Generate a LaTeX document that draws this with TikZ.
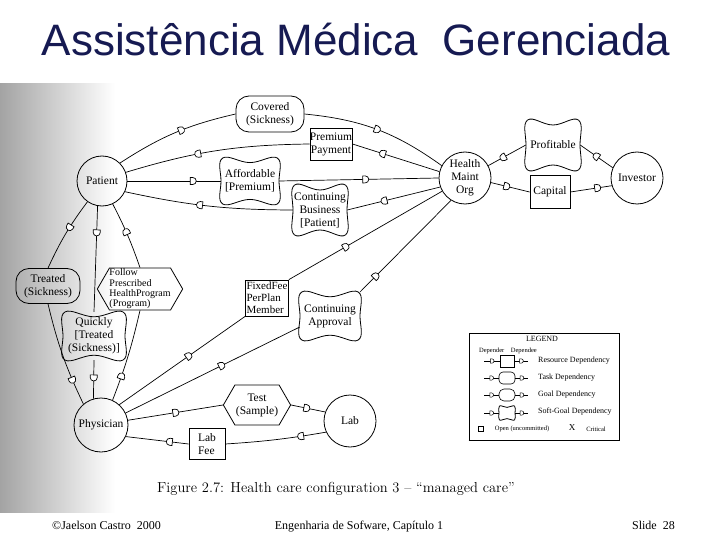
\documentclass[tikz,border=0pt]{standalone}
\usepackage{fontspec}
\newfontfamily\tnr{Liberation Serif}
\newfontfamily\titlefont{Liberation Sans}
\usetikzlibrary{shapes.symbols,shapes.misc,decorations.markings}
\definecolor{titleblue}{RGB}{22,26,82}
\newcommand\dsym{\draw[line width=0.7pt,fill=white] (-2.6pt,-3.5pt) -- (0pt,-3.5pt) arc[start angle=-90,end angle=90,radius=3.5pt] -- (-2.6pt,3.5pt) -- cycle;}
\newcommand\dsymsmall{\draw[line width=0.5pt,fill=white] (-1.6pt,-2.2pt) -- (0pt,-2.2pt) arc[start angle=-90,end angle=90,radius=2.2pt] -- (-1.6pt,2.2pt) -- cycle;}
\tikzset{
  x=1pt,y=-1pt,
  every node/.style={font=\tnr\fontsize{11.5}{13}\selectfont, align=center, inner sep=1pt},
  actor/.style={draw, circle, line width=0.8pt, minimum size=#1, inner sep=0pt},
  goal/.style={draw, rounded corners=13pt, line width=0.8pt, inner sep=0pt},
  res/.style={draw, rectangle, line width=0.8pt, inner sep=0pt},
  task/.style={draw, signal, signal to=west and east, signal pointer angle=120, line width=0.8pt},
  sgtext/.style={inner sep=0pt},
  sgline/.style={line width=0.8pt},
  link/.style={line width=0.7pt},
  dmk/.style={postaction={decorate,decoration={markings,mark=at position #1 with {\dsym}}}},
  dmks/.style={postaction={decorate,decoration={markings,mark=at position #1 with {\dsymsmall}}}},
  legtext/.style={font=\tnr\fontsize{8}{9}\selectfont, inner sep=0pt},
  foot/.style={font=\tnr\fontsize{12}{14}\selectfont, inner sep=0pt},
}
\newcommand\softgoal[6]{%
  \node[sgtext, minimum width=#4, minimum height=#5] (#1) at (#2,#3) {#6};
  \draw[sgline, shift={(#2,#3)}] plot[smooth cycle, tension=0.7] coordinates {(-0.47*#4,-0.5*#5) (0,-0.4*#5) (0.47*#4,-0.5*#5) (0.5*#4,0) (0.47*#4,0.5*#5) (0,0.4*#5) (-0.47*#4,0.5*#5) (-0.5*#4,0)};
}
\begin{document}
\begin{tikzpicture}
\useasboundingbox (0,0) rectangle (720,540);
\fill[white] (0,0) rectangle (720,540);
% scanned page shading
\shade[left color=black!36, right color=white] (0,84) rectangle (115,512);

% title
\node[font=\titlefont\fontsize{44}{48}\selectfont, text=titleblue] (title) at (356,40) {Assistência Médica\ \ Gerenciada};

% actors
\node[actor=50] (pat) at (102,181) {Patient};
\node[actor=52] (hmo) at (465,178) {Health\\Maint\\Org};
\node[actor=52] (inv) at (637,178) {Investor};
\node[actor=54] (phy) at (101,425) {Physician};
\node[actor=52] (lab) at (350,421) {Lab};

% goals
\node[goal, minimum width=68, minimum height=36] (cov) at (270,114) {Covered\\(Sickness)};
\node[goal, minimum width=64, minimum height=35] (trt) at (48,286) {Treated\\(Sickness)};

% resources
\node[res, minimum width=41, minimum height=32] (pp) at (331,144) {Premium\\Payment};
\node[res, minimum width=40, minimum height=33] (cap) at (550,192) {Capital};
\node[res, minimum width=43, minimum height=36, font=\tnr\fontsize{11}{11.8}\selectfont, align=left] (ff) at (267,298) {FixedFee\\PerPlan\\Member};
\node[res, minimum width=36, minimum height=31, align=left] (lf) at (207,444) {Lab\\Fee};

% tasks
\node[task, minimum width=62, minimum height=40] (tst) at (257,405) {Test\\(Sample)};
\node[task, minimum width=64, minimum height=42, inner sep=0pt, font=\tnr\fontsize{10}{10.4}\selectfont, align=left] (fol) at (140,289) {Follow\\Prescribed\\HealthProgram\\(Program)};

% softgoals
\softgoal{aff}{250}{181}{58}{46}{Affordable\\{[}Premium]}
\softgoal{cb}{320}{210}{54}{50}{Continuing\\Business\\{[}Patient]}
\softgoal{prof}{553}{145}{54}{50}{Profitable}
\softgoal{qk}{94}{336}{62}{48}{Quickly\\{[}Treated\\(Sickness)]}
\softgoal{ca}{330}{316}{60}{48}{Continuing\\Approval}

% dependencies
\draw[link,dmk=0.55] (pat.45) to[bend left=10] (cov.west);
\draw[link,dmk=0.5] (cov.east) to[bend left=15] (hmo.152);
\draw[link,dmk=0.65] (hmo.166) -- (pp.east);
\draw[link,dmk=0.6] (pp.west) to[bend right=8] (pat.20);
\draw[link,dmk=0.7] (pat.east) -- (aff.west);
\draw[link,dmk=0.54] (aff.east) -- (hmo.west);
\draw[link,dmk=0.6] (hmo.200) -- (cb.east);
\draw[link,dmk=0.55] (cb.west) to[bend left=6] (pat.-25);
\draw[link,dmk=0.5] (inv.157) -- (prof.east);
\draw[link,dmk=0.6] (prof.west) -- (hmo.28);
\draw[link,dmk=0.4] (hmo.-10) -- (cap.west);
\draw[link,dmk=0.65] (cap.east) -- (inv.197);
\draw[link,dmk=0.55] (phy.48) -- (ff.south west);
\draw[link,dmk=0.37] (ff.north east) -- (hmo.210);
\draw[link,dmk=0.55] (phy.26) -- (ca.200);
\draw[link,dmk=0.17] (ca.north east) -- (hmo.238);
\draw[link,dmk=0.5] (phy.10) -- (tst.west);
\draw[link,dmk=0.45] (tst.east) -- (lab.160);
\draw[link,dmk=0.25] (lab.205) to[bend left=3] (lf.east);
\draw[link,dmk=0.3] (lf.west) -- (phy.-25);
\draw[link,dmk=0.4] (pat.-125) to[bend right=6] (trt.north);
\draw[link,dmk=0.75] (trt.south) to[bend right=6] (phy.130);
\draw[link,dmk=0.25] (pat.-100) -- (qk.north);
\draw[link,dmk=0.45] (qk.south) -- (phy.106);
\draw[link,dmk=0.27] (phy.65) to[bend right=4] (fol.south);
\draw[link,dmk=0.55] (fol.north) to[bend right=4] (pat.-65);

% legend
\node[draw, line width=0.8pt, minimum width=150, minimum height=107, inner sep=0pt] (leg) at (544,386.5) {};
\draw[line width=1.6pt] (leg.south west) -- (leg.south east);
\node[legtext] (legh) at (542,339) {LEGEND};
\node[legtext, font=\tnr\fontsize{6.5}{7}\selectfont] (legd) at (508,351) {Depender\quad Dependee};
\node[draw, line width=0.6pt, minimum width=14, minimum height=12, inner sep=0pt] (lr) at (507,361) {};
\node[draw, line width=0.6pt, rounded corners=4pt, minimum width=16, minimum height=12, inner sep=0pt] (lt) at (507,378) {};
\node[draw, line width=0.6pt, rounded corners=5pt, minimum width=16, minimum height=12, inner sep=0pt] (lg) at (507,395) {};
\softgoal{ls}{507}{413}{16}{14}{}
\foreach \n/\yy in {r/361,t/378,g/395,s/413}{
  \coordinate (la\n) at (484,\yy);
  \coordinate (lb\n) at (528,\yy);
  \draw[line width=0.5pt,dmks=0.5] (la\n) -- (l\n.west);
  \draw[line width=0.5pt,dmks=0.5] (l\n.east) -- (lb\n);
}
\node[legtext, anchor=west] (ltr) at (538,361) {Resource Dependency};
\node[legtext, anchor=west] (ltt) at (538,378) {Task Dependency};
\node[legtext, anchor=west] (ltg) at (538,395) {Goal Dependency};
\node[legtext, anchor=west] (lts) at (538,412) {Soft-Goal Dependency};
\node[draw, line width=0.5pt, minimum size=5, inner sep=0pt] (lsq) at (481,429) {};
\node[legtext, font=\tnr\fontsize{6.5}{7}\selectfont] (lopen) at (522,429) {Open (uncommitted)};
\node[legtext, font=\tnr\fontsize{9}{10}\selectfont] (lx) at (572,428) {X};
\node[legtext, font=\tnr\fontsize{6.5}{7}\selectfont] (lcrit) at (596,429) {Critical};

% caption
\node[font=\rmfamily\fontsize{14.5}{16}\selectfont] (fcap) at (336,489) {Figure 2.7: Health care configuration 3 -- ``managed care''};

% footer
\node[foot, anchor=base west] (f1) at (52,529) {©Jaelson Castro\ \ 2000};
\node[foot, anchor=base] (f2) at (359,529) {Engenharia de Sofware, Capítulo 1};
\node[foot, anchor=base east] (f3) at (675,529) {Slide\ \ 28};
\end{tikzpicture}
\end{document}
